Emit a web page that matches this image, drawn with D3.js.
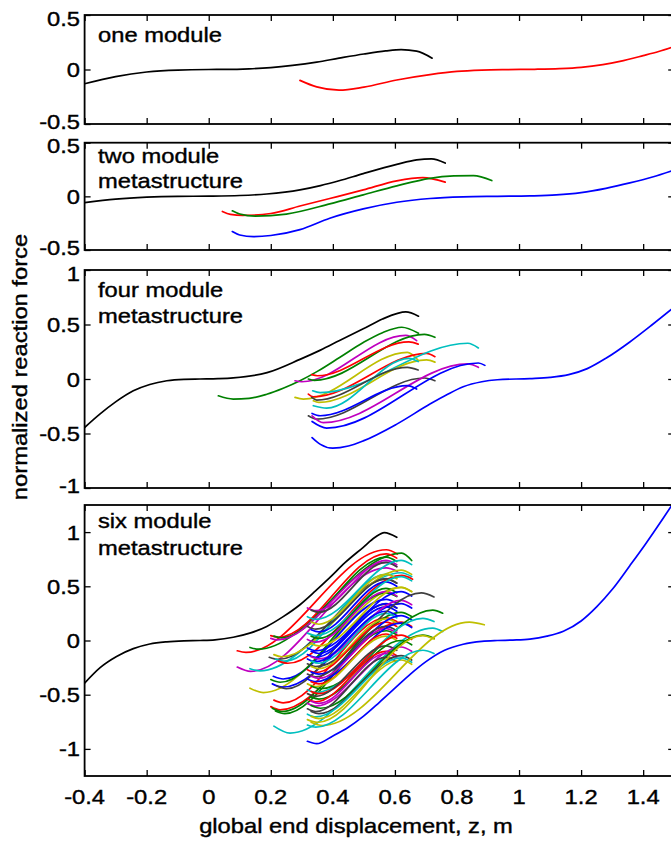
<!DOCTYPE html>
<html>
<head>
<meta charset="utf-8">
<script src="https://cdn.jsdelivr.net/npm/d3@7"></script>
<style>
  body { margin: 0; background: #fff; }
  svg { display: block; }
  text { font-family: "Liberation Sans", Arial, Helvetica, sans-serif; fill: #000; stroke: #000; stroke-width: 0.4px; }
</style>
</head>
<body>
<svg id="chart" width="671" height="841"></svg>
<script>
// ---------- axis data ----------
const xDomain = [-0.4, 1.5];
const xTicks = [-0.4, -0.2, 0, 0.2, 0.4, 0.6, 0.8, 1, 1.2, 1.4];
const yDomains = [[-0.5, 0.5], [-0.5, 0.5], [-1, 1], [-1.25, 1.25]];
const yTicks = [[-0.5, 0, 0.5], [-0.5, 0, 0.5], [-1, -0.5, 0, 0.5, 1], [-1, -0.5, 0, 0.5, 1]];
const panelTitles = [["one module"], ["two module", "metastructure"], ["four module", "metastructure"], ["six module", "metastructure"]];
const xLabel = "global end displacement, z, m";
const yLabel = "normalized reaction force";

// ---------- force-displacement branches: [series key, [[z, force], ...]] ----------
const oneModule = [
  ["k", [[-0.4,-0.131],[-0.3,-0.065],[-0.2,-0.023],[-0.1,-0.005],[0.0,0.0],[0.05,0.0005],[0.13,0.006],[0.2,0.018],[0.27,0.038],[0.348,0.068],[0.42,0.104],[0.5,0.142],[0.57,0.17],[0.62,0.182],[0.67,0.168],[0.72,0.104]]],
  ["r", [[0.294,-0.10],[0.348,-0.16],[0.42,-0.19],[0.5,-0.162],[0.606,-0.096],[0.713,-0.047],[0.8,-0.018],[0.88,-0.006],[0.96,-0.001],[1.05,0.002],[1.13,0.008],[1.2,0.02],[1.27,0.045],[1.325,0.074],[1.40,0.127],[1.45,0.165],[1.5,0.21]]]
];

const twoModule = [
  ["k", [[-0.4,-0.058],[-0.3,-0.026],[-0.2,-0.008],[-0.1,0.0],[0.0,0.002],[0.1,0.008],[0.187,0.022],[0.294,0.06],[0.36,0.1],[0.42,0.145],[0.498,0.212],[0.606,0.298],[0.67,0.34],[0.718,0.35],[0.762,0.31]]],
  ["r", [[0.044,-0.141],[0.07,-0.168],[0.11,-0.178],[0.2,-0.16],[0.294,-0.09],[0.39,-0.02],[0.498,0.06],[0.606,0.145],[0.69,0.175],[0.762,0.132]]],
  ["g", [[0.076,-0.135],[0.1,-0.165],[0.15,-0.185],[0.25,-0.165],[0.39,-0.07],[0.498,0.014],[0.606,0.098],[0.713,0.168],[0.79,0.19],[0.853,0.194],[0.912,0.147]]],
  ["b", [[0.076,-0.328],[0.1,-0.36],[0.144,-0.375],[0.2,-0.365],[0.294,-0.31],[0.39,-0.204],[0.498,-0.117],[0.606,-0.055],[0.713,-0.02],[0.82,-0.005],[0.93,0.0],[1.035,0.004],[1.12,0.013],[1.2,0.035],[1.28,0.075],[1.357,0.125],[1.43,0.18],[1.5,0.245]]]
];

const fourModule = [
  ["k", [[-0.4,-0.445],[-0.35,-0.32],[-0.3,-0.21],[-0.243,-0.108],[-0.19,-0.05],[-0.135,-0.016],[-0.08,-0.003],[-0.028,0.0],[0.03,0.003],[0.079,0.01],[0.188,0.058],[0.294,0.18],[0.36,0.265],[0.42,0.35],[0.498,0.46],[0.56,0.55],[0.606,0.6],[0.635,0.615],[0.676,0.576]]],
  ["g", [[0.031,-0.154],[0.079,-0.184],[0.13,-0.178],[0.187,-0.14],[0.24,-0.085],[0.294,-0.016],[0.35,0.07],[0.423,0.2],[0.498,0.335],[0.56,0.425],[0.622,0.475],[0.676,0.42]]],
  ["m", [[0.278,-0.016],[0.30,-0.025],[0.635,0.40],[0.67,0.352]]],
  ["g", [[0.321,0.0],[0.34,-0.012],[0.695,0.41],[0.729,0.383]]],
  ["r", [[0.332,0.04],[0.35,0.03],[0.645,0.34],[0.675,0.32]]],
  ["y", [[0.278,-0.169],[0.305,-0.184],[0.64,0.245],[0.675,0.172]]],
  ["r", [[0.321,-0.138],[0.337,-0.163],[0.702,0.236],[0.729,0.205]]],
  ["c", [[0.335,-0.108],[0.359,-0.125],[0.835,0.328],[0.869,0.285]]],
  ["y", [[0.337,-0.20],[0.355,-0.215],[0.702,0.175],[0.729,0.155]]],
  ["c", [[0.337,-0.245],[0.38,-0.267],[0.645,0.19],[0.675,0.16]]],
  ["d", [[0.332,-0.169],[0.348,-0.193],[0.64,0.107],[0.675,0.083]]],
  ["d", [[0.321,-0.338],[0.348,-0.368],[0.695,0.009],[0.729,-0.016]]],
  ["m", [[0.333,-0.338],[0.369,-0.40],[0.835,0.138],[0.869,0.107]]],
  ["b", [[0.333,-0.316],[0.359,-0.337],[0.64,-0.061],[0.67,-0.092]]],
  ["b", [[0.333,-0.39],[0.38,-0.45],[0.869,0.147],[0.89,0.125]]],
  ["b", [[0.333,-0.537],[0.36,-0.60],[0.40,-0.635],[0.45,-0.615],[0.498,-0.568],[0.606,-0.414],[0.713,-0.23],[0.77,-0.14],[0.82,-0.071],[0.88,-0.025],[0.93,-0.007],[1.035,0.004],[1.1,0.015],[1.16,0.04],[1.22,0.095],[1.28,0.19],[1.357,0.34],[1.43,0.5],[1.5,0.66]]]
];

const sixModule = [
  ["k", [[-0.4,-0.393],[-0.35,-0.25],[-0.297,-0.147],[-0.243,-0.075],[-0.19,-0.032],[-0.135,-0.012],[-0.08,-0.003],[-0.028,0.0],[0.02,0.006],[0.079,0.03],[0.135,0.07],[0.187,0.13],[0.24,0.22],[0.294,0.33],[0.345,0.46],[0.39,0.58],[0.44,0.72],[0.498,0.86],[0.535,0.95],[0.566,0.995],[0.606,0.952]]],
  ["r", [[0.092,-0.095],[0.12,-0.11],[0.572,0.837],[0.608,0.797]]],
  ["m", [[0.092,-0.245],[0.135,-0.285],[0.572,0.67],[0.608,0.637]]],
  ["g", [[0.133,-0.064],[0.16,-0.08],[0.622,0.806],[0.654,0.738]]],
  ["c", [[0.133,-0.26],[0.165,-0.28],[0.62,0.625],[0.654,0.59]]],
  ["y", [[0.133,-0.44],[0.176,-0.48],[0.62,0.49],[0.654,0.452]]],
  ["r", [[0.2,0.045],[0.225,0.03],[0.572,0.80],[0.606,0.76]]],
  ["g", [[0.21,0.04],[0.235,0.025],[0.572,0.77],[0.606,0.729]]],
  ["m", [[0.2,0.02],[0.222,0.005],[0.572,0.72],[0.606,0.683]]],
  ["d", [[0.195,-0.155],[0.225,-0.175],[0.572,0.565],[0.606,0.529]]],
  ["y", [[0.21,-0.13],[0.235,-0.15],[0.62,0.65],[0.654,0.61]]],
  ["c", [[0.215,-0.17],[0.245,-0.19],[0.572,0.61],[0.606,0.576]]],
  ["r", [[0.225,-0.19],[0.255,-0.21],[0.622,0.60],[0.657,0.566]]],
  ["b", [[0.208,-0.33],[0.24,-0.355],[0.572,0.38],[0.606,0.345]]],
  ["g", [[0.2,-0.36],[0.23,-0.385],[0.572,0.44],[0.606,0.406]]],
  ["b", [[0.205,-0.40],[0.238,-0.43],[0.62,0.34],[0.654,0.299]]],
  ["d", [[0.22,-0.42],[0.25,-0.445],[0.572,0.335],[0.606,0.299]]],
  ["r", [[0.21,-0.55],[0.24,-0.575],[0.572,0.21],[0.606,0.175]]],
  ["r", [[0.2,-0.61],[0.23,-0.64],[0.62,0.17],[0.654,0.13]]],
  ["g", [[0.205,-0.625],[0.235,-0.655],[0.62,0.26],[0.654,0.221]]],
  ["g", [[0.215,-0.65],[0.245,-0.675],[0.572,0.09],[0.606,0.053]]],
  ["c", [[0.21,-0.79],[0.262,-0.854],[0.722,0.115],[0.754,0.083]]],
  ["m", [[0.318,0.30],[0.345,0.275],[0.571,0.74],[0.606,0.70]]],
  ["d", [[0.33,0.28],[0.355,0.26],[0.571,0.72],[0.606,0.68]]],
  ["c", [[0.318,0.22],[0.345,0.195],[0.62,0.74],[0.654,0.70]]],
  ["y", [[0.33,0.17],[0.355,0.15],[0.571,0.61],[0.606,0.57]]],
  ["d", [[0.318,0.13],[0.345,0.105],[0.571,0.57],[0.606,0.53]]],
  ["b", [[0.33,0.10],[0.355,0.08],[0.571,0.54],[0.606,0.50]]],
  ["c", [[0.318,0.068],[0.345,0.045],[0.62,0.59],[0.654,0.55]]],
  ["g", [[0.33,0.04],[0.355,0.02],[0.571,0.48],[0.606,0.44]]],
  ["m", [[0.318,0.01],[0.345,-0.015],[0.571,0.45],[0.606,0.41]]],
  ["y", [[0.33,-0.03],[0.355,-0.05],[0.62,0.49],[0.654,0.45]]],
  ["b", [[0.318,-0.07],[0.345,-0.095],[0.62,0.45],[0.654,0.41]]],
  ["b", [[0.33,-0.10],[0.355,-0.12],[0.571,0.34],[0.606,0.30]]],
  ["b", [[0.318,-0.13],[0.345,-0.155],[0.571,0.31],[0.606,0.27]]],
  ["m", [[0.33,-0.15],[0.355,-0.17],[0.62,0.37],[0.654,0.33]]],
  ["b", [[0.318,-0.17],[0.345,-0.195],[0.571,0.27],[0.606,0.23]]],
  ["c", [[0.33,-0.19],[0.355,-0.21],[0.571,0.25],[0.606,0.21]]],
  ["d", [[0.318,-0.215],[0.345,-0.24],[0.685,0.44],[0.726,0.402]]],
  ["y", [[0.33,-0.24],[0.355,-0.26],[0.571,0.20],[0.606,0.16]]],
  ["r", [[0.318,-0.27],[0.345,-0.295],[0.571,0.17],[0.606,0.13]]],
  ["b", [[0.33,-0.29],[0.355,-0.31],[0.62,0.23],[0.654,0.19]]],
  ["d", [[0.318,-0.31],[0.345,-0.335],[0.571,0.13],[0.606,0.09]]],
  ["m", [[0.33,-0.33],[0.355,-0.35],[0.571,0.11],[0.606,0.07]]],
  ["b", [[0.318,-0.355],[0.345,-0.38],[0.62,0.16],[0.654,0.12]]],
  ["r", [[0.33,-0.38],[0.355,-0.40],[0.571,0.06],[0.606,0.02]]],
  ["y", [[0.318,-0.40],[0.345,-0.425],[0.571,0.04],[0.606,0.0]]],
  ["g", [[0.33,-0.42],[0.36,-0.445],[0.722,0.28],[0.754,0.252]]],
  ["c", [[0.318,-0.455],[0.345,-0.48],[0.69,0.205],[0.726,0.175]]],
  ["r", [[0.33,-0.47],[0.355,-0.49],[0.62,0.05],[0.654,0.01]]],
  ["d", [[0.318,-0.49],[0.345,-0.515],[0.571,-0.05],[0.606,-0.09]]],
  ["g", [[0.33,-0.52],[0.355,-0.54],[0.62,0.0],[0.654,-0.04]]],
  ["r", [[0.318,-0.54],[0.345,-0.565],[0.571,-0.10],[0.606,-0.14]]],
  ["m", [[0.33,-0.56],[0.355,-0.58],[0.571,-0.12],[0.606,-0.16]]],
  ["m", [[0.318,-0.58],[0.345,-0.605],[0.62,-0.06],[0.654,-0.10]]],
  ["g", [[0.33,-0.60],[0.36,-0.625],[0.69,0.05],[0.726,0.02]]],
  ["d", [[0.318,-0.63],[0.345,-0.655],[0.571,-0.155],[0.606,-0.194]]],
  ["d", [[0.33,-0.655],[0.355,-0.675],[0.62,-0.14],[0.654,-0.18]]],
  ["c", [[0.318,-0.68],[0.345,-0.705],[0.62,-0.16],[0.654,-0.2]]],
  ["y", [[0.33,-0.70],[0.355,-0.72],[0.62,-0.18],[0.654,-0.22]]],
  ["y", [[0.318,-0.73],[0.35,-0.755],[0.69,0.045],[0.726,0.013]]],
  ["y", [[0.33,-0.755],[0.365,-0.785],[0.84,0.17],[0.888,0.145]]],
  ["c", [[0.318,-0.78],[0.345,-0.80],[0.69,-0.09],[0.726,-0.12]]],
  ["b", [[0.318,-0.93],[0.348,-0.952],[0.40,-0.88],[0.45,-0.8],[0.498,-0.7],[0.55,-0.57],[0.60,-0.44],[0.65,-0.31],[0.70,-0.195],[0.76,-0.09],[0.82,-0.035],[0.88,-0.008],[0.93,0.0],[0.98,0.004],[1.035,0.013],[1.09,0.04],[1.143,0.085],[1.2,0.18],[1.25,0.31],[1.3,0.47],[1.357,0.69],[1.41,0.9],[1.465,1.13],[1.5,1.28]]]
];

const panelSeries = [oneModule, twoModule, fourModule, sixModule];

// ---------- styling ----------
const seriesColour = {
  k: "#000000", b: "#0000ff", g: "#008000", r: "#ff0000",
  c: "#00bfbf", m: "#bf00bf", y: "#bfbf00", d: "#404040"
};
const FONT = 21, STRETCH = 1.13;
const panelBoxes = [
  { top: 15,    bottom: 124 },
  { top: 142.7, bottom: 250 },
  { top: 270,   bottom: 488 },
  { top: 505,   bottom: 776 }
];
const titleBaselines = [[42], [162.7, 188.3], [297.3, 323.3], [528.3, 555]];

const svg = d3.select("#chart");
const x = d3.scaleLinear().domain(xDomain).range([84.6, 674.2]);
const [xl, xr] = x.range();

function label(g, str, tx, ty, anchor, rotate) {
  g.append("text")
    .attr("transform", `translate(${tx},${ty})` + (rotate ? " rotate(-90)" : "") + ` scale(${STRETCH},1)`)
    .attr("text-anchor", anchor)
    .attr("font-size", FONT)
    .text(str);
}

panelBoxes.forEach((box, i) => {
  const y = d3.scaleLinear().domain(yDomains[i]).range([box.bottom, box.top]);
  const g = svg.append("g");

  const clipId = "clip" + i;
  svg.append("clipPath").attr("id", clipId)
    .append("rect").attr("x", xl).attr("y", box.top).attr("width", xr - xl).attr("height", box.bottom - box.top);

  // branches
  const line = d3.line().x(d => x(d[0])).y(d => y(d[1])).curve(d3.curveMonotoneX);
  g.append("g").attr("clip-path", `url(#${clipId})`)
    .selectAll("path").data(panelSeries[i]).join("path")
    .attr("d", d => line(d[1]))
    .attr("fill", "none")
    .attr("stroke", d => seriesColour[d[0]])
    .attr("stroke-width", 1.7)
    .attr("stroke-linejoin", "round")
    .attr("stroke-linecap", "round");

  // inward ticks on all four sides
  g.append("g").attr("transform", `translate(0,${box.bottom})`)
    .call(d3.axisBottom(x).tickValues(xTicks).tickFormat("").tickSizeInner(-6).tickSizeOuter(0));
  g.append("g").attr("transform", `translate(0,${box.top})`)
    .call(d3.axisTop(x).tickValues(xTicks).tickFormat("").tickSizeInner(-6).tickSizeOuter(0));
  g.append("g").attr("transform", `translate(${xl},0)`)
    .call(d3.axisLeft(y).tickValues(yTicks[i]).tickFormat("").tickSizeInner(-6).tickSizeOuter(0));
  g.append("g").attr("transform", `translate(${xr},0)`)
    .call(d3.axisRight(y).tickValues(yTicks[i]).tickFormat("").tickSizeInner(-6).tickSizeOuter(0));
  g.selectAll(".domain").remove();
  g.selectAll(".tick line").attr("stroke", "#000").attr("stroke-width", 1.3);

  // frame
  g.append("rect")
    .attr("x", xl).attr("y", box.top)
    .attr("width", xr - xl).attr("height", box.bottom - box.top)
    .attr("fill", "none").attr("stroke", "#000").attr("stroke-width", 1.8);

  // y tick labels (end labels nudged inward so neighbouring panels do not collide)
  const [d0, d1] = yDomains[i];
  yTicks[i].forEach(v => {
    const nudge = v === d1 ? 3 : v === d0 ? -2.5 : 0;
    label(g, String(v), 80, y(v) + 7.5 + nudge, "end", false);
  });

  // panel title
  panelTitles[i].forEach((t, k) => label(g, t, 98, titleBaselines[i][k], "start", false));

  // x tick labels on the bottom panel
  if (i === panelBoxes.length - 1) {
    xTicks.forEach(v => label(g, String(v), x(v), box.bottom + 27.5, "middle", false));
  }
});

// axis titles
label(svg, xLabel, 356, 833, "middle", false);
label(svg, yLabel, 27, 367, "middle", true);
</script>
</body>
</html>
